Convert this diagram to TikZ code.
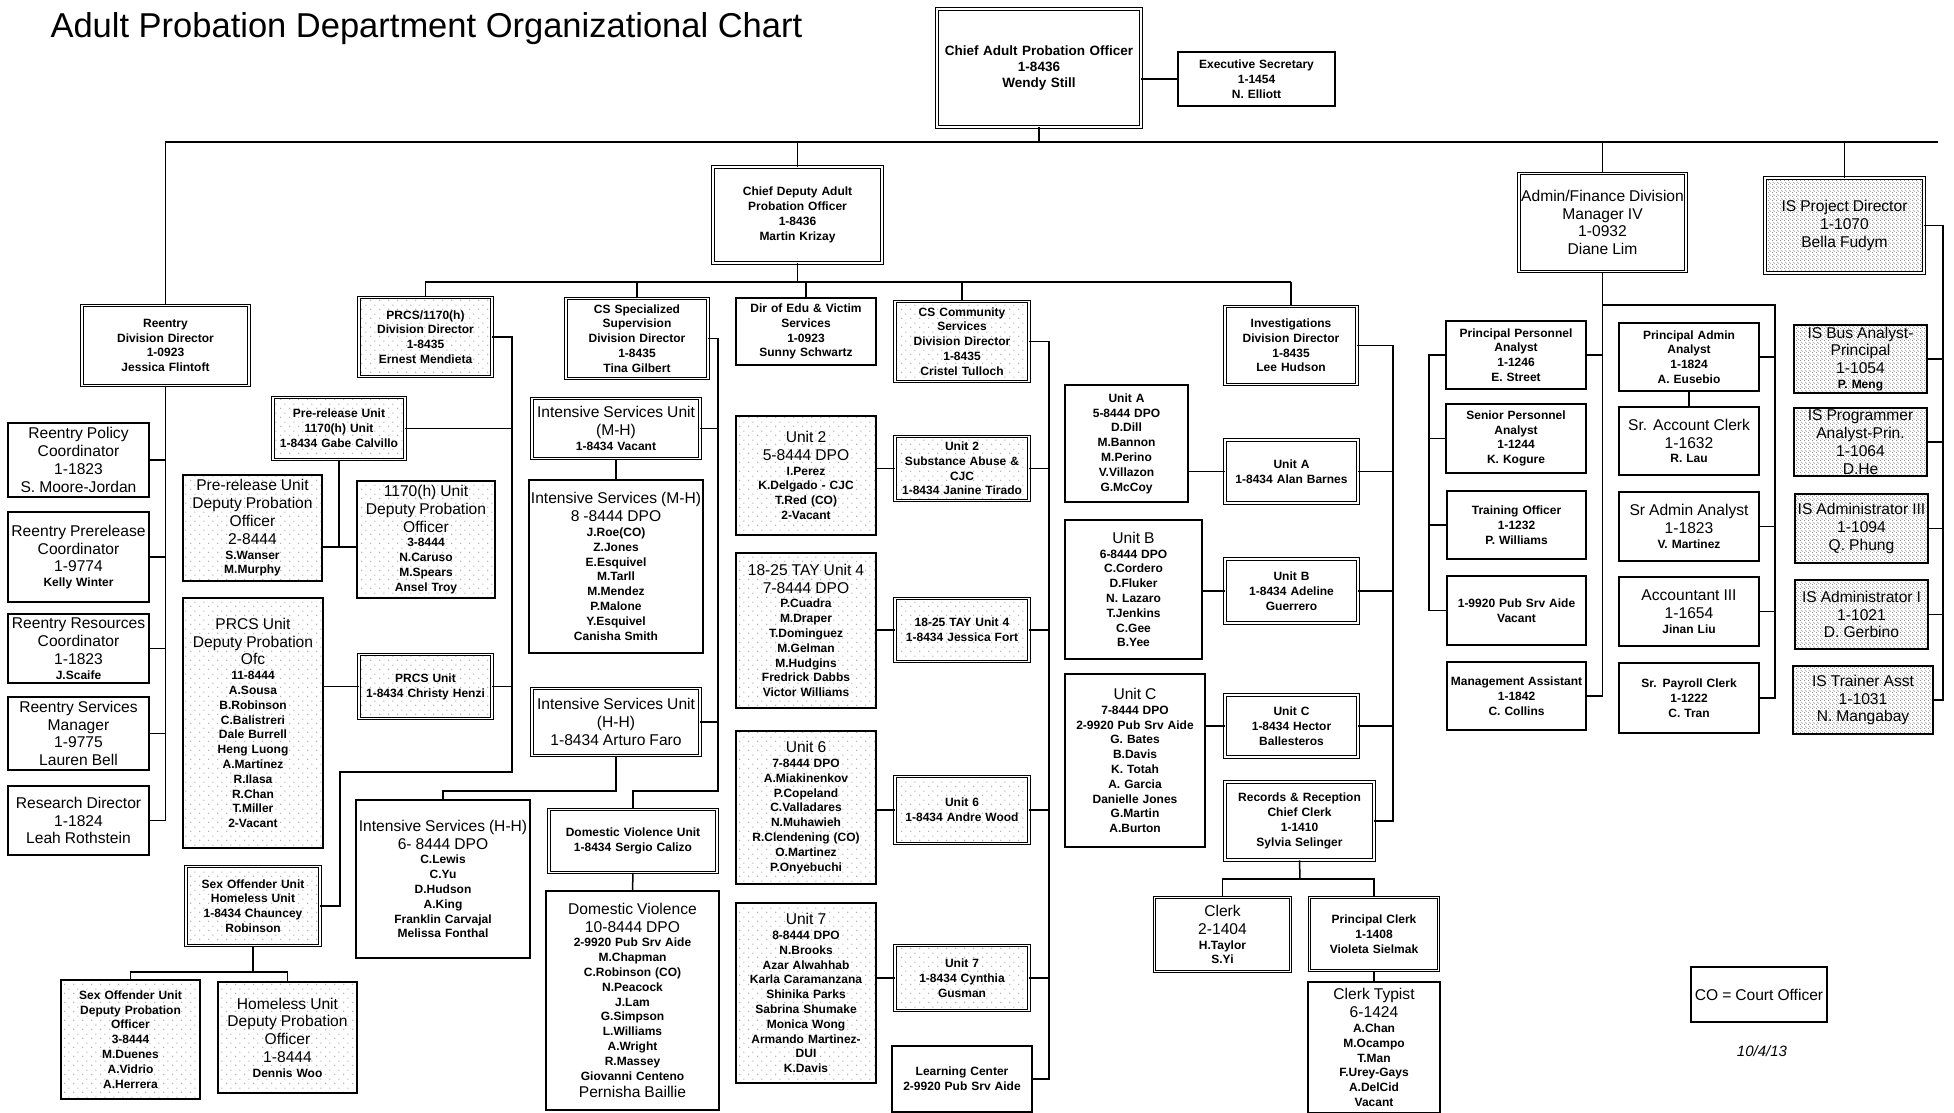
\documentclass[tikz,border=0pt]{standalone}
\usepackage{fontspec}
\setmainfont{Liberation Sans}
\usetikzlibrary{patterns}
\newcommand\fsb{\fontsize{12}{14.8}\selectfont\bfseries}
\newcommand\flg{\fontsize{15.6}{17.8}\selectfont\mdseries}
\pgfdeclarepatternformonly{sparsedots}{\pgfqpoint{0pt}{0pt}}{\pgfqpoint{9pt}{9pt}}{\pgfqpoint{9pt}{9pt}}{%
  \pgfpathcircle{\pgfqpoint{2pt}{3pt}}{0.7pt}%
  \pgfpathcircle{\pgfqpoint{6.5pt}{7.5pt}}{0.7pt}%
  \pgfusepath{fill}}
\pgfdeclarepatternformonly{densedots}{\pgfqpoint{0pt}{0pt}}{\pgfqpoint{4pt}{4pt}}{\pgfqpoint{4pt}{4pt}}{%
  \pgfpathcircle{\pgfqpoint{0.8pt}{0.8pt}}{0.55pt}%
  \pgfpathcircle{\pgfqpoint{2.8pt}{2.2pt}}{0.55pt}%
  \pgfpathcircle{\pgfqpoint{1.6pt}{3.4pt}}{0.45pt}%
  \pgfusepath{fill}}
\tikzset{
  box/.style={draw, line width=1.3pt, inner xsep=0pt, inner ysep=1pt, align=center, font=\fsb},
  dbox/.style={box, double, line width=0.8pt, double distance=1.6pt},
  sz/.style 2 args={text width=#1pt, minimum width=#1pt, minimum height=#2pt},
  lstip/.style={pattern=sparsedots, pattern color=gray!80},
  dstip/.style={pattern=densedots, pattern color=black!75},
  link/.style={line width=1.5pt}
}
\begin{document}
\begin{tikzpicture}[x=1pt, y=-1pt]
  \fill[white] (0,0) rectangle (1954,1113);
  \useasboundingbox (0,0) rectangle (1954,1113);
  \node[anchor=base west, font=\fontsize{34.5}{40}\selectfont] (title) at (47,38) {Adult Probation Department Organizational Chart};

  % top of the chart
  \node[dbox, sz={204}{118}, font=\fontsize{13.5}{16}\selectfont\bfseries] (chief) at (1039,68) {Chief Adult Probation Officer\\1-8436\\Wendy Still};
  \node[box, sz={157}{54}] (exsec) at (1256.5,79) {Executive Secretary\\1-1454\\N. Elliott};
  \node[dbox, sz={169}{96}] (cdep) at (797.5,215) {Chief Deputy Adult\\Probation Officer\\1-8436\\Martin Krizay};

  % reentry
  \node[dbox, sz={167}{80}] (reentry) at (165.5,345.5) {Reentry\\Division Director\\1-0923\\Jessica Flintoft};
  \node[box, sz={141}{74}] (rpc) at (78.5,460) {{\flg Reentry Policy\\Coordinator\\1-1823\\S. Moore-Jordan\par}};
  \node[box, sz={141}{90}] (rprc) at (78.5,557) {{\flg Reentry Prerelease\\Coordinator\\1-9774\par}Kelly Winter};
  \node[box, sz={141}{69}] (rrc) at (78.5,648.5) {{\flg Reentry Resources\\Coordinator\\1-1823\par}J.Scaife};
  \node[box, sz={141}{73}] (rsm) at (78.5,733.5) {{\flg Reentry Services\\Manager\\1-9775\\Lauren Bell\par}};
  \node[box, sz={141}{69}] (rd) at (78.5,820.5) {{\flg Research Director\\1-1824\\Leah Rothstein\par}};

  % PRCS / 1170(h)
  \node[dbox, lstip, sz={133}{79}] (prcs) at (425.5,337) {PRCS/1170(h)\\Division Director\\1-8435\\Ernest Mendieta};
  \node[dbox, lstip, sz={132}{62}] (pru) at (339,428.5) {Pre-release Unit\\1170(h) Unit\\1-8434 Gabe Calvillo};
  \node[box, lstip, sz={139}{106}] (prd) at (252.5,528) {{\flg Pre-release Unit\\Deputy Probation\\Officer\\2-8444\par}S.Wanser\\M.Murphy};
  \node[box, lstip, sz={138}{117}] (prh) at (426,539.5) {{\flg 1170(h) Unit\\Deputy Probation\\Officer\par}3-8444\\N.Caruso\\M.Spears\\Ansel Troy};
  \node[box, lstip, sz={140}{250}] (prcsd) at (253,723) {{\flg PRCS Unit\\Deputy Probation\\Ofc\par}11-8444\\A.Sousa\\B.Robinson\\C.Balistreri\\Dale Burrell\\Heng Luong\\A.Martinez\\R.Ilasa\\R.Chan\\T.Miller\\2-Vacant};
  \node[dbox, lstip, sz={133}{64}] (prcsu) at (425.5,686.5) {PRCS Unit\\1-8434 Christy Henzi};
  \node[dbox, lstip, sz={134}{79}] (shu) at (253,906) {Sex Offender Unit\\Homeless Unit\\1-8434 Chauncey\\Robinson};
  \node[box, lstip, sz={139}{119}] (sod) at (130.5,1039.5) {Sex Offender Unit\\Deputy Probation\\Officer\\3-8444\\M.Duenes\\A.Vidrio\\A.Herrera};
  \node[box, lstip, sz={139}{111}] (hod) at (287.5,1037.5) {{\flg Homeless Unit\\Deputy Probation\\Officer\\1-8444\par}Dennis Woo};

  % CS specialized supervision
  \node[dbox, sz={142}{80}] (css) at (637,338.5) {CS Specialized\\Supervision\\Division Director\\1-8435\\Tina Gilbert};
  \node[dbox, sz={168}{60}] (ismhu) at (616,428.5) {{\flg Intensive Services Unit\\(M-H)\par}1-8434 Vacant};
  \node[box, sz={174}{173}] (ismhd) at (616,566.5) {{\flg Intensive Services (M-H)\\8 -8444 DPO\par}J.Roe(CO)\\Z.Jones\\E.Esquivel\\M.Tarll\\M.Mendez\\P.Malone\\Y.Esquivel\\Canisha Smith};
  \node[dbox, sz={168}{67}] (ishhu) at (616,722) {{\flg Intensive Services Unit\\(H-H)\\1-8434 Arturo Faro\par}};
  \node[box, sz={174}{158}] (ishhd) at (443,879) {{\flg Intensive Services (H-H)\\6- 8444 DPO\par}C.Lewis\\C.Yu\\D.Hudson\\A.King\\Franklin Carvajal\\Melissa Fonthal};
  \node[dbox, sz={168}{63}] (dvu) at (633,841) {Domestic Violence Unit\\1-8434 Sergio Calizo};
  \node[box, sz={173}{219}] (dvd) at (632.5,1000.5) {{\flg Domestic Violence\\10-8444 DPO\par}2-9920 Pub Srv Aide\\M.Chapman\\C.Robinson (CO)\\N.Peacock\\J.Lam\\G.Simpson\\L.Williams\\A.Wright\\R.Massey\\Giovanni Centeno\par{\flg Pernisha Baillie\par}};

  % victim services and CS community services
  \node[box, sz={140}{67}] (edu) at (806,331.5) {Dir of Edu \& Victim\\Services\\1-0923\\Sunny Schwartz};
  \node[dbox, lstip, sz={134}{80}] (csc) at (962,341.5) {CS Community\\Services\\Division Director\\1-8435\\Cristel Tulloch};
  \node[box, lstip, sz={140}{119}] (u2d) at (806,475.5) {{\flg Unit 2\\5-8444 DPO\par}I.Perez\\K.Delgado - CJC\\T.Red (CO)\\2-Vacant};
  \node[dbox, lstip, sz={134}{64}] (u2s) at (962,468.5) {Unit 2\\Substance Abuse \&\\CJC\\1-8434 Janine Tirado};
  \node[box, lstip, sz={140}{155}] (tayd) at (806,630.5) {{\flg 18-25 TAY Unit 4\\7-8444 DPO\par}P.Cuadra\\M.Draper\\T.Dominguez\\M.Gelman\\M.Hudgins\\Fredrick Dabbs\\Victor Williams};
  \node[dbox, lstip, sz={134}{63}] (tayu) at (962,630) {18-25 TAY Unit 4\\1-8434 Jessica Fort};
  \node[box, lstip, sz={140}{153}] (u6d) at (806,807.5) {{\flg Unit 6\par}7-8444 DPO\\A.Miakinenkov\\P.Copeland\\C.Valladares\\N.Muhawieh\\R.Clendening (CO)\\O.Martinez\\P.Onyebuchi};
  \node[dbox, lstip, sz={134}{67}] (u6u) at (962,810) {Unit 6\\1-8434 Andre Wood};
  \node[box, lstip, sz={140}{180}] (u7d) at (806,993) {{\flg Unit 7\par}8-8444 DPO\\N.Brooks\\Azar Alwahhab\\Karla Caramanzana\\Shinika Parks\\Sabrina Shumake\\Monica Wong\\Armando Martinez-\\DUI\\K.Davis};
  \node[dbox, lstip, sz={134}{65}] (u7u) at (962,978) {Unit 7\\1-8434 Cynthia\\Gusman};
  \node[box, sz={140}{66}] (lc) at (962,1079) {Learning Center\\2-9920 Pub Srv Aide};

  % investigations
  \node[dbox, sz={132}{78}] (inv) at (1291,345.5) {Investigations\\Division Director\\1-8435\\Lee Hudson};
  \node[box, sz={123}{117}] (uad) at (1126.5,443.5) {Unit A\\5-8444 DPO\\D.Dill\\M.Bannon\\M.Perino\\V.Villazon\\G.McCoy};
  \node[dbox, sz={133}{63}] (uau) at (1291.5,471.5) {Unit A\\1-8434 Alan Barnes};
  \node[box, sz={137}{139}] (ubd) at (1133.5,589.5) {{\flg Unit B\par}6-8444 DPO\\C.Cordero\\D.Fluker\\N. Lazaro\\T.Jenkins\\C.Gee\\B.Yee};
  \node[dbox, sz={133}{64}] (ubu) at (1291.5,591) {Unit B\\1-8434 Adeline\\Guerrero};
  \node[box, sz={140}{173}] (ucd) at (1135,760.5) {{\flg Unit C\par}7-8444 DPO\\2-9920 Pub Srv Aide\\G. Bates\\B.Davis\\K. Totah\\A. Garcia\\Danielle Jones\\G.Martin\\A.Burton};
  \node[dbox, sz={133}{62}] (ucu) at (1291.5,726) {Unit C\\1-8434 Hector\\Ballesteros};
  \node[dbox, sz={149}{78}] (rr) at (1299.5,821) {Records \& Reception\\Chief Clerk\\1-1410\\Sylvia Selinger};
  \node[dbox, sz={136}{74}] (clerk) at (1222.5,934.5) {{\flg Clerk\\2-1404\par}H.Taylor\\S.Yi};
  \node[dbox, sz={129}{73}] (prc) at (1374,934) {Principal Clerk\\1-1408\\Violeta Sielmak};
  \node[box, sz={132}{131}] (ct) at (1374,1047.5) {{\flg Clerk Typist\\6-1424\par}A.Chan\\M.Ocampo\\T.Man\\F.Urey-Gays\\A.DelCid\\Vacant};

  % admin / finance
  \node[dbox, sz={167}{98}] (admin) at (1602.5,222.5) {{\flg Admin/Finance Division\\Manager IV\\1-0932\\Diane Lim\par}};
  \node[box, sz={140}{68}] (ppa) at (1516,355) {Principal Personnel\\Analyst\\1-1246\\E. Street};
  \node[box, sz={140}{69}] (spa) at (1516,438.5) {Senior Personnel\\Analyst\\1-1244\\K. Kogure};
  \node[box, sz={139}{68}] (tro) at (1516.5,525) {Training Officer\\1-1232\\P. Williams};
  \node[box, sz={139}{69}] (psa) at (1516.5,610.5) {1-9920 Pub Srv Aide\\Vacant};
  \node[box, sz={139}{68}] (mga) at (1516.5,696) {Management Assistant\\1-1842\\C. Collins};
  \node[box, sz={140}{68}] (paa) at (1689,357) {Principal Admin\\Analyst\\1-1824\\A. Eusebio};
  \node[box, sz={140}{68}] (sac) at (1689,441) {{\flg Sr. Account Clerk\\1-1632\par}R. Lau};
  \node[box, sz={140}{69}] (saa) at (1689,526.5) {{\flg Sr Admin Analyst\\1-1823\par}V. Martinez};
  \node[box, sz={140}{69}] (acc) at (1689,611.5) {{\flg Accountant III\\1-1654\par}Jinan Liu};
  \node[box, sz={140}{70}] (spc) at (1689,698) {Sr. Payroll Clerk\\1-1222\\C. Tran};

  % information systems
  \node[dbox, dstip, sz={159}{95}] (isp) at (1844.5,225.5) {{\flg IS Project Director\\1-1070\\Bella Fudym\par}};
  \node[box, dstip, sz={133}{68}] (iba) at (1860.5,359) {{\flg IS Bus Analyst-\\Principal\\1-1054\par}P. Meng};
  \node[box, dstip, sz={133}{68}] (ipa) at (1860.5,442) {{\flg IS Programmer\\Analyst-Prin.\\1-1064\\D.He\par}};
  \node[box, dstip, sz={133}{69}] (ia3) at (1861.5,528.5) {{\flg IS Administrator III\\1-1094\\Q. Phung\par}};
  \node[box, dstip, sz={133}{69}] (ia1) at (1861.5,614.5) {{\flg IS Administrator I\\1-1021\\D. Gerbino\par}};
  \node[box, dstip, sz={140}{68}] (ita) at (1863,700) {{\flg IS Trainer Asst\\1-1031\\N. Mangabay\par}};

  \node[box, sz={136}{55}] (legend) at (1759,994.5) {{\flg CO = Court Officer\par}};
  \node[font=\fontsize{15}{18}\selectfont\itshape] (date) at (1762,1051) {10/4/13};

  % connectors
  \coordinate (topL) at (165,142);
  \coordinate (topR) at (1938,142);
  \draw[link] (topL) -- (topR);
  \draw[link] (chief.south) -- (chief.south |- topL);
  \draw[link] (exsec.west) -- (exsec.west -| chief.east);
  \foreach \nd in {reentry,cdep,admin,isp}
    \draw[link] (\nd.north) -- (\nd.north |- topL);

  \draw[link] (reentry.south) -- (reentry.south |- rd.east);
  \foreach \nd in {rpc,rprc,rrc,rsm,rd}
    \draw[link] (\nd.east) -- (\nd.east -| reentry.south);

  \coordinate (dbusL) at (425,282);
  \coordinate (dbusR) at (1291,282);
  \draw[link] (dbusL) -- (dbusR);
  \draw[link] (cdep.south) -- (cdep.south |- dbusL);
  \foreach \nd in {prcs,css,edu,csc,inv}
    \draw[link] (\nd.north) -- (\nd.north |- dbusL);

  \coordinate (prturn) at (512,772);
  \coordinate (prjog) at (340,772);
  \draw[link] (prcs.east) -| (prturn) -- (prjog) |- (shu.east);
  \foreach \nd in {pru,prcsu}
    \draw[link] (\nd.east) -- (\nd.east -| prturn);
  \draw[link] (prcsu.west) -- (prcsu.west -| prcsd.east);
  \coordinate (prjoin) at (340,547);
  \draw[link] (pru.south) -- (pru.south |- prjoin);
  \draw[link] (prd.east |- prjoin) -- (prh.west |- prjoin);
  \coordinate (sobus) at (253,972);
  \draw[link] (shu.south) -- (sobus);
  \draw[link] (sod.north) |- (sobus) -| (hod.north);

  \coordinate (cssturn) at (718,791);
  \draw[link] (css.east) -| (cssturn) -| (dvu.north);
  \foreach \nd in {ismhu,ishhu}
    \draw[link] (\nd.east) -- (\nd.east -| cssturn);
  \draw[link] (ismhu.south) -- (ismhd.north);
  \draw[link] (ishhu.south) -- ++(0,35) -| (ishhd.north);
  \draw[link] (dvu.south) -- (dvd.north);

  \coordinate (cscturn) at (1049,1079);
  \draw[link] (csc.east) -| (cscturn) -- (lc.east);
  \foreach \unit/\dpo in {u2s/u2d,tayu/tayd,u6u/u6d,u7u/u7d} {
    \draw[link] (\unit.east) -- (\unit.east -| cscturn);
    \draw[link] (\unit.west) -- (\unit.west -| \dpo.east);
  }

  \coordinate (invturn) at (1393,821);
  \draw[link] (inv.east) -| (invturn) -- (rr.east);
  \foreach \unit/\dpo in {uau/uad,ubu/ubd,ucu/ucd} {
    \draw[link] (\unit.east) -- (\unit.east -| invturn);
    \draw[link] (\unit.west) -- (\unit.west -| \dpo.east);
  }
  \coordinate (rrbus) at (1300,879);
  \draw[link] (rr.south) -- (rrbus);
  \draw[link] (clerk.north) |- (rrbus) -| (prc.north);
  \draw[link] (prc.south) -- (ct.north);

  \coordinate (adbus) at (1775,305);
  \draw[link] (admin.south) |- (mga.east);
  \draw[link] (ppa.east) -- (ppa.east -| admin.south);
  \draw[link] (admin.south |- adbus) -- (adbus) |- (spc.east);
  \foreach \nd in {paa,saa,acc}
    \draw[link] (\nd.east) -- (\nd.east -| adbus);
  \draw[link] (paa.south) -- (sac.north);
  \coordinate (ppspine) at (1429,0);
  \draw[link] (ppa.west) -- (ppa.west -| ppspine) |- (psa.west);
  \foreach \nd in {spa,tro}
    \draw[link] (\nd.west) -- (\nd.west -| ppspine);

  \coordinate (isspine) at (1943,0);
  \draw[link] (isp.east) -- (isp.east -| isspine) |- (ita.east);
  \foreach \nd in {iba,ipa,ia3,ia1}
    \draw[link] (\nd.east) -- (\nd.east -| isspine);
\end{tikzpicture}
\end{document}
